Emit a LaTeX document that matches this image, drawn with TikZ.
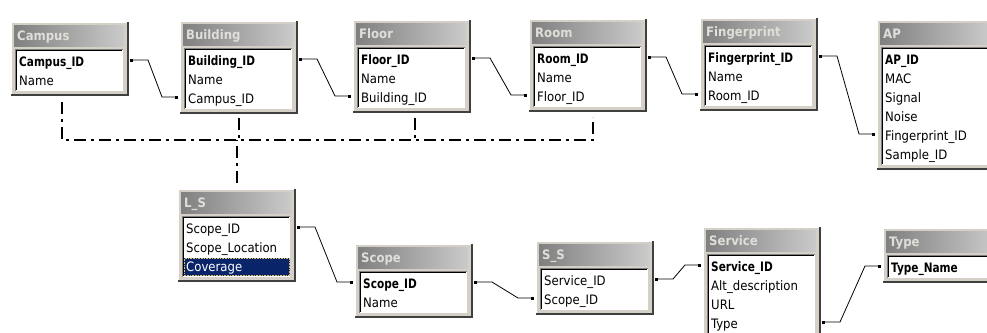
\documentclass[tikz,border=0pt]{standalone}
\usepackage{fontspec}
\setmainfont{DejaVu Sans Condensed}[BoldFont={DejaVu Sans Condensed Bold}]
\newfontface\keyface{DejaVu Sans Condensed Bold}[FakeStretch=0.9]
\usetikzlibrary{arrows.meta}
\definecolor{frameC}{HTML}{D4D0C8}
\definecolor{shadowC}{HTML}{404040}
\definecolor{hdrL}{HTML}{808080}
\definecolor{hdrR}{HTML}{CACACA}
\definecolor{hdrT}{HTML}{E0DED8}
\definecolor{selC}{HTML}{0A246A}
\definecolor{focusC}{HTML}{D8C070}
\tikzset{
 rowtext/.style={anchor=west, inner sep=0pt, text height=9.5pt, text depth=0pt, font=\fontsize{13}{15}\selectfont},
 hdrtext/.style={rowtext, font=\fontsize{13}{15}\selectfont\bfseries, text=hdrT},
 tblframe/.style={rectangle, inner sep=0pt, outer sep=0pt, minimum width=118pt, anchor=north west},
 rel/.style={draw=black, line width=0.8pt, {Square[length=2.6pt,width=2.6pt]}-{Square[length=2.6pt,width=2.6pt]}},
 viewline/.style={line width=2pt, dash pattern=on 12pt off 5pt on 3pt off 5pt},
}
\newcommand\dbtable[7]{%
 \pgfmathsetmacro\tbh{36+19*#5}%
 \node[tblframe, minimum height=\tbh pt] (#1) at (#2,#3-13) {};
 \fill[frameC] (#1.north west) rectangle (#1.south east);
 \draw[white, line width=1pt] ([shift={(0.5pt,0pt)}]#1.south west) -- ([shift={(0.5pt,-0.5pt)}]#1.north west) -- ([shift={(0pt,-0.5pt)}]#1.north east);
 \draw[shadowC, line width=2pt] ([shift={(-1pt,0pt)}]#1.north east) -- ([shift={(-1pt,1pt)}]#1.south east) -- ([shift={(0pt,1pt)}]#1.south west);
 \shade[left color=hdrL, right color=hdrR] ([shift={(3pt,-3pt)}]#1.north west) rectangle ([shift={(-5pt,-24pt)}]#1.north east);
 \node[hdrtext] (#1-t) at ([shift={(6pt,-13.5pt)}]#1.north west) {#4};
 \fill[white] ([shift={(4pt,-27pt)}]#1.north west) rectangle ([shift={(-6pt,5pt)}]#1.south east);
 \draw[hdrL, line width=1pt] ([shift={(4.5pt,5pt)}]#1.south west) -- ([shift={(4.5pt,-27.5pt)}]#1.north west) -- ([shift={(-6pt,-27.5pt)}]#1.north east);
 \draw[black, line width=1pt] ([shift={(5.5pt,6pt)}]#1.south west) -- ([shift={(5.5pt,-28.5pt)}]#1.north west) -- ([shift={(-7pt,-28.5pt)}]#1.north east);
 #7
 \foreach \rowtxt [count=\i] in {#6} {\node[rowtext] (#1-\i) at (#2+8, #3+27+19*\i-19) {\rowtxt};}
}
\newcommand\relline[4]{\draw[rel] ([xshift=1pt,yshift=2pt]#1.east |- #2) -- ++(18,0) -- ([xshift=-18pt,yshift=2pt]#3.west |- #4) -- ([xshift=-2pt,yshift=2pt]#3.west |- #4);}
\begin{document}
\begin{tikzpicture}[x=1pt,y=-1pt]
\useasboundingbox (0,0) rectangle (987,332);
\clip (0,0) rectangle (987,332);
\fill[white] (0,0) rectangle (987,332);

\dbtable{campus}{11}{35}{Campus}{2}{{\keyface Campus\_ID},Name}{}
\dbtable{building}{180}{34}{Building}{3}{{\keyface Building\_ID},Name,Campus\_ID}{}
\dbtable{floor}{353}{33}{Floor}{3}{{\keyface Floor\_ID},Name,Building\_ID}{}
\dbtable{room}{529}{32}{Room}{3}{{\keyface Room\_ID},Name,Floor\_ID}{}
\dbtable{fingerprint}{700}{31}{Fingerprint}{3}{{\keyface Fingerprint\_ID},Name,Room\_ID}{}
\dbtable{ap}{877}{33}{AP}{6}{{\keyface AP\_ID},MAC,Signal,Noise,Fingerprint\_ID,Sample\_ID}{}
\dbtable{ls}{178}{202}{L\_S}{3}{Scope\_ID,Scope\_Location,\textcolor{white}{Coverage}}{\fill[selC] (184,258) rectangle (290,276); \draw[focusC, densely dotted, line width=0.6pt] (184.5,258.5) rectangle (289.5,275.5);}
\dbtable{scope}{355}{257}{Scope}{2}{{\keyface Scope\_ID},Name}{}
\dbtable{ss}{536}{254}{S\_S}{2}{Service\_ID,Scope\_ID}{}
\dbtable{service}{703}{240}{Service}{4}{{\keyface Service\_ID},Alt\_description,URL,Type}{}
\dbtable{type}{883}{241}{Type}{1}{{\keyface Type\_Name}}{}

\relline{campus}{campus-1}{building}{building-3}
\relline{building}{building-1}{floor}{floor-3}
\relline{floor}{floor-1}{room}{room-3}
\relline{room}{room-1}{fingerprint}{fingerprint-3}
\relline{fingerprint}{fingerprint-1}{ap}{ap-5}
\relline{ls}{ls-1}{scope}{scope-1}
\relline{scope}{scope-1}{ss}{ss-2}
\relline{ss}{ss-1}{service}{service-1}
\relline{service}{service-4}{type}{type-1}

\coordinate (bus) at (62,140);
\draw[viewline] ([xshift=-8pt,yshift=-6pt]campus.south) |- ([xshift=5pt]room.south |- bus) -- ([xshift=5pt,yshift=-5pt]room.south);
\draw[viewline] ([yshift=-4pt]building.south) -- (building.south |- bus);
\draw[viewline] ([xshift=3pt,yshift=-5pt]floor.south) -- ([xshift=3pt]floor.south |- bus);
\draw[viewline] ([yshift=6pt]ls.north) -- (ls.north |- bus);
\end{tikzpicture}
\end{document}
